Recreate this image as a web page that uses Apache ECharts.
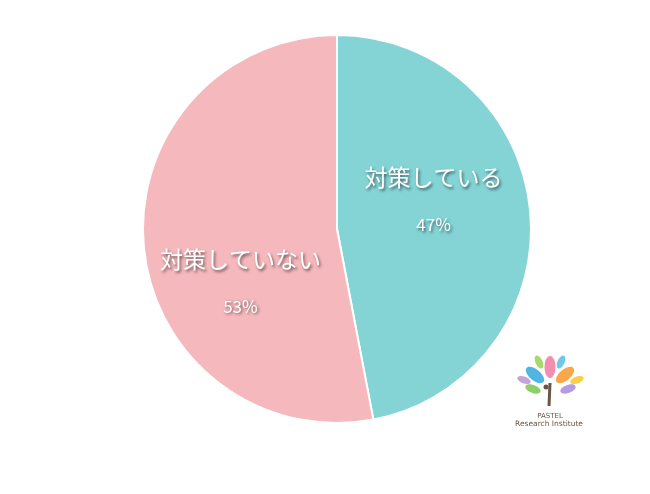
<!DOCTYPE html>
<html><head><meta charset="utf-8">
<script src="https://cdn.jsdelivr.net/npm/echarts@6/dist/echarts.min.js"></script>
<style>html,body{margin:0;padding:0;background:#fff}#c{width:650px;height:494px}</style>
</head><body><div id="c"></div>
<script>
const categories = ['対策している', '対策していない'];
const values = [47, 53];
const colors = ['#84d4d6', '#f5b8bd'];

const chart = echarts.init(document.getElementById('c'), null, {renderer: 'canvas'});
const labelOffsets = [[-3, -20], [3, 43]];

function petal(cx, cy, rx, ry, rot, color) {
  return {type: 'ellipse', x: cx, y: cy, rotation: rot * Math.PI / 180,
    shape: {cx: 0, cy: 0, rx: rx, ry: ry}, style: {fill: color}, z: 10};
}
const shadow = {textShadowColor: 'rgba(0,0,0,0.55)', textShadowBlur: 3, textShadowOffsetX: 1.5, textShadowOffsetY: 1.5};

chart.setOption({
  animation: false,
  backgroundColor: '#fff',
  series: [{
    type: 'pie',
    center: [337, 229],
    radius: [0, 194],
    startAngle: 90,
    clockwise: true,
    itemStyle: {borderColor: '#fff', borderWidth: 2},
    label: Object.assign({
      show: true,
      position: 'inside',
      formatter: p => '{n|' + p.name + '}\n{g|}\n{p|' + Math.round(p.percent) + '%}',
      rich: {
        n: Object.assign({fontFamily: 'Noto Sans CJK JP', fontSize: 23, color: '#fff', lineHeight: 30, align: 'center'}, shadow),
        g: {height: 20, lineHeight: 20},
        p: Object.assign({fontFamily: 'Noto Sans CJK JP', fontSize: 17, color: '#fff', lineHeight: 24, align: 'center'}, shadow)
      }
    }, shadow),
    labelLine: {show: false},
    emphasis: {disabled: true},
    data: categories.map((c, i) => ({
      name: c, value: values[i],
      itemStyle: {color: colors[i]},
      label: {offset: labelOffsets[i]}
    }))
  }],
  graphic: [
    petal(539, 362, 3.5, 7, 25, '#a6d96a'),
    petal(550, 367, 5.5, 11, 0, '#f28fb0'),
    petal(561, 362, 3.5, 7, -25, '#6fc8e8'),
    petal(535, 375, 5.5, 11, 50, '#4fb6e3'),
    petal(565, 375, 5.5, 11, -50, '#f7a94a'),
    petal(524, 380, 3.5, 7, 70, '#c7a3dc'),
    petal(577, 380, 3.5, 7, -70, '#f9cf4a'),
    petal(533, 389, 4, 8, 70, '#8fcf6a'),
    petal(568, 389, 4, 8, -70, '#b59be0'),
    {type: 'line', shape: {x1: 550, y1: 383, x2: 549, y2: 406}, style: {stroke: '#6b5545', lineWidth: 3}, z: 11},
    {type: 'circle', shape: {cx: 546, cy: 387, r: 2.5}, style: {fill: '#6b5545'}, z: 11},
    {type: 'text', x: 550, y: 416, style: {text: 'PASTEL', fontSize: 7, fontFamily: 'DejaVu Sans', fill: '#6b5545', textAlign: 'center', textVerticalAlign: 'middle'}, z: 11},
    {type: 'text', x: 549, y: 424, style: {text: 'Research Institute', fontSize: 7.5, fontFamily: 'DejaVu Sans', fill: '#6b5545', textAlign: 'center', textVerticalAlign: 'middle'}, z: 11}
  ]
});
</script></body></html>
